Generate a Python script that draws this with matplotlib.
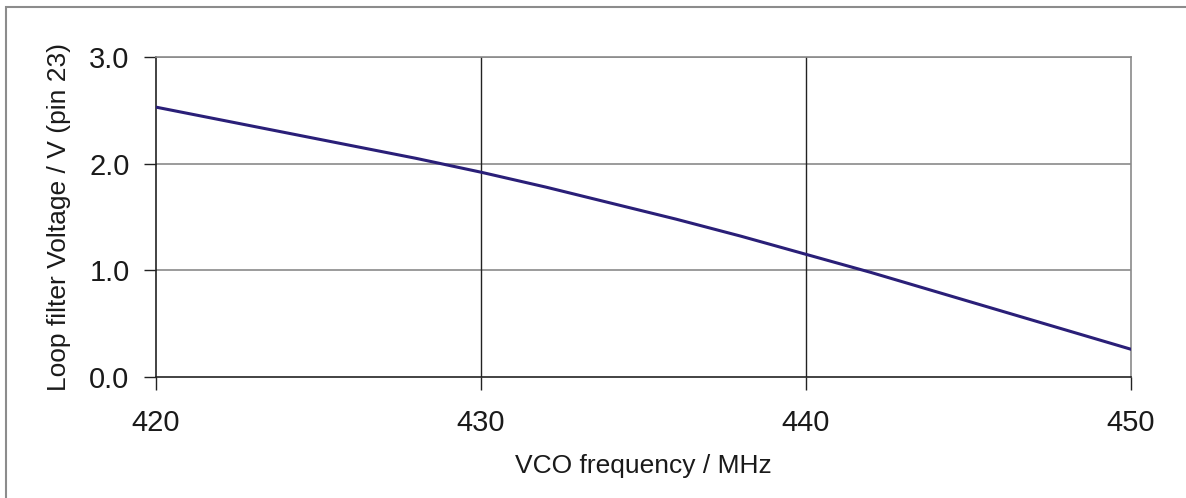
import numpy as np
import matplotlib
matplotlib.use("Agg")
import matplotlib.pyplot as plt
from matplotlib.patches import Rectangle

plt.rcParams['font.family'] = ['Liberation Sans', 'DejaVu Sans']

# VCO tuning curve
freq_mhz = [420, 422, 424, 426, 428, 430, 432, 434, 436, 438, 440, 442, 444, 446, 448, 450]
loop_v = [2.53, 2.41, 2.29, 2.17, 2.05, 1.92, 1.78, 1.63, 1.48, 1.32, 1.15, 0.98, 0.80, 0.62, 0.44, 0.26]
x_ticks = [420, 430, 440, 450]
y_ticks = [0.0, 1.0, 2.0, 3.0]

W, H = 1186, 498
fig = plt.figure(figsize=(W / 100, H / 100), dpi=100)

# outer chart frame (only top/left visible in the reference)
fig.patches.append(Rectangle((6 / W, -0.2), 1.2, 1.2 - 7 / H, transform=fig.transFigure,
                             fill=False, edgecolor='#8c8c8c', linewidth=1.5))

ax = fig.add_axes([156 / W, (H - 377) / H, (1131 - 156) / W, (377 - 57) / H])
ax.plot(freq_mhz, loop_v, color='#2a1f78', linewidth=2.2, zorder=3)

ax.set_xlim(420, 450)
ax.set_ylim(0, 3)
ax.set_xticks(x_ticks)
ax.set_yticks(y_ticks)
ax.set_yticklabels([f'{v:.1f}' for v in y_ticks])

# grid: grey horizontals, dark verticals
for v in y_ticks[1:]:
    ax.axhline(v, color='#8a8a8a', linewidth=1.2, zorder=1)
for f in x_ticks[1:-1]:
    ax.axvline(f, color='#222222', linewidth=1.0, zorder=1)

for side in ['top', 'right']:
    ax.spines[side].set_color('#8a8a8a')
    ax.spines[side].set_linewidth(1.2)
for side in ['left', 'bottom']:
    ax.spines[side].set_color('#222222')
    ax.spines[side].set_linewidth(1.2)

ax.tick_params(direction='out', length=9, width=1.0, color='#222222',
               labelsize=21, labelcolor='#1a1a1a', pad=10)
ax.tick_params(axis='x', pad=14)

ax.set_xlabel('VCO frequency / MHz', fontsize=19, color='#1a1a1a', labelpad=12)
ax.set_ylabel('Loop filter Voltage / V (pin 23)', fontsize=19, color='#1a1a1a', labelpad=13)

fig.savefig('out.png', dpi=100)
